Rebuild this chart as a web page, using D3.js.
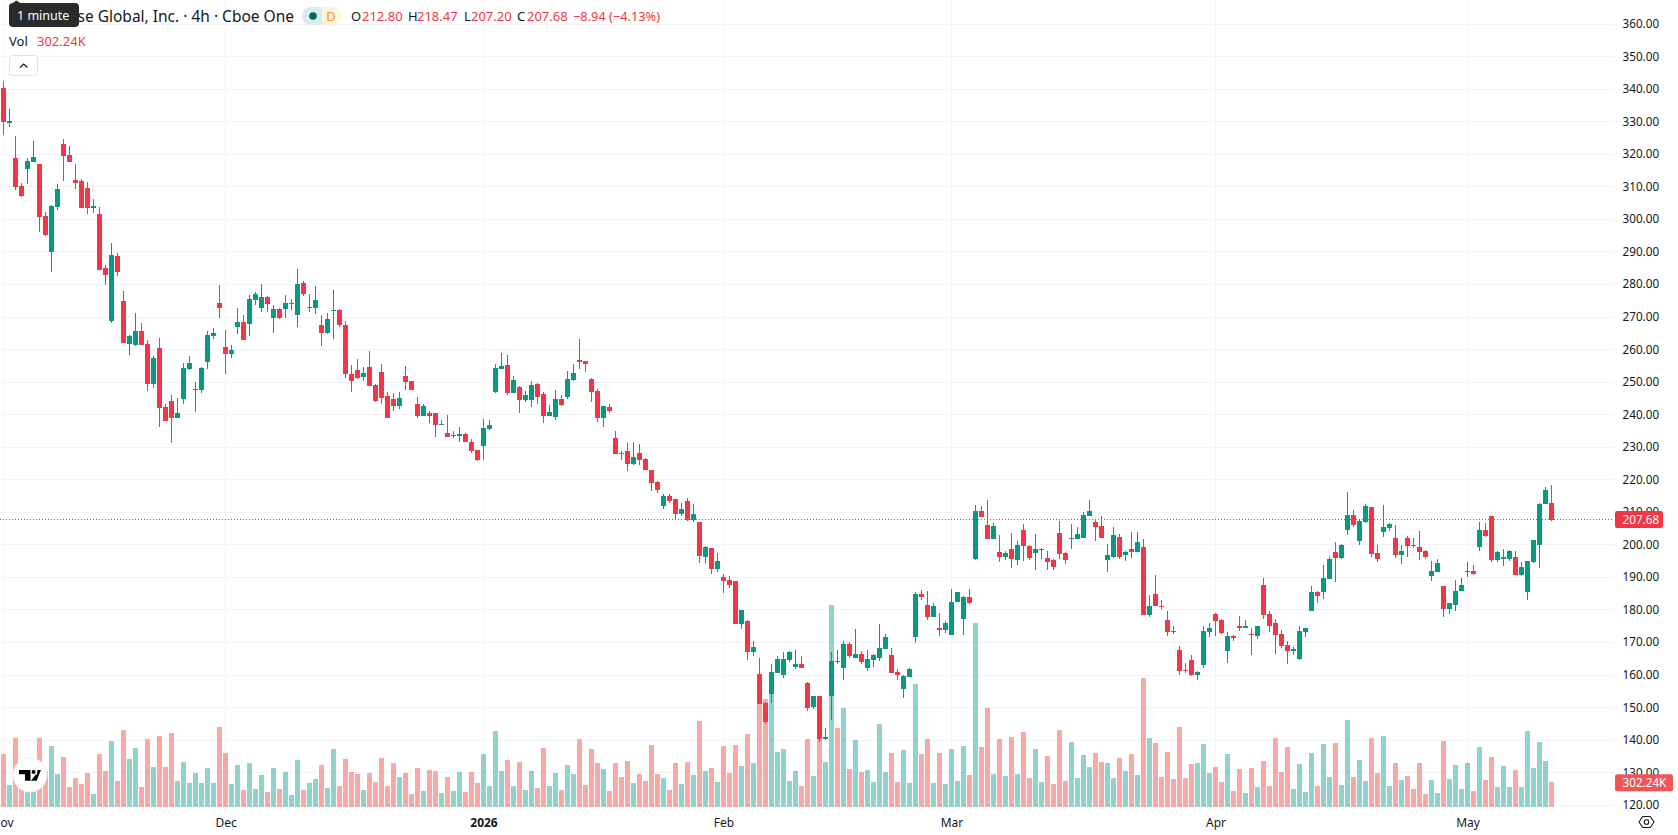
<!DOCTYPE html>
<html>
<head>
<meta charset="utf-8">
<title>Coinbase Global, Inc. 4h</title>
<script src="https://cdn.jsdelivr.net/npm/d3@7/dist/d3.min.js"></script>
<style>
  html, body { margin: 0; padding: 0; background: #fff; overflow: hidden; }
  svg { display: block; }
  text { font-family: "Noto Sans", sans-serif; }
</style>
</head>
<body>
<svg id="chart" width="1678" height="835"></svg>
<script>
// Session candles, oldest first (USD per share)
const opens = [
  340.4,329.7,318.9,310.3,315.5,317.7,317.0,301.1,290.0,303.9,
  323.2,319.8,312.1,311.8,309.7,303.5,301.7,285.1,268.8,288.8,
  275.0,261.8,261.4,265.8,261.8,249.5,260.5,242.4,244.2,239.0,
  244.9,254.1,247.6,247.6,256.2,264.2,274.3,260.8,258.7,267.0,
  268.5,267.9,275.3,272.8,276.2,269.7,272.5,272.5,274.0,270.7,
  280.5,272.8,272.8,267.6,265.1,271.9,272.2,267.6,252.5,253.8,
  251.6,254.7,249.2,253.1,245.8,244.8,242.7,251.9,250.4,243.3,
  239.5,240.4,240.4,236.7,234.3,233.4,233.4,234.0,231.5,229.1,
  230.3,235.5,246.9,253.9,255.2,246.6,248.4,244.4,244.4,249.3,
  246.3,239.5,239.2,244.7,245.4,250.6,256.7,256.4,250.9,247.2,
  238.9,242.3,232.8,228.3,228.8,224.8,228.1,226.3,222.9,219.2,
  211.9,214.9,214.0,209.4,213.4,207.6,206.9,196.2,199.0,192.5,
  190.0,189.1,188.8,175.6,176.5,167.0,160.4,151.5,154.3,160.7,
  160.1,164.7,162.6,163.5,157.7,150.3,153.4,140.2,153.7,164.4,
  162.3,169.4,165.1,166.6,162.3,164.5,165.1,167.9,166.3,160.8,
  155.6,159.3,171.6,184.8,181.4,177.7,174.6,173.7,172.2,182.3,
  177.1,183.9,195.8,210.3,206.0,201.7,197.7,196.4,198.6,195.2,
  204.7,199.5,197.4,198.3,196.1,195.2,203.5,197.4,201.7,201.7,
  202.0,209.0,206.9,205.7,195.2,196.4,202.3,196.8,198.6,197.7,
  199.2,178.3,184.8,181.1,176.8,173.4,167.6,161.4,164.5,159.9,
  163.0,173.1,178.9,176.8,167.3,171.9,175.0,174.6,172.5,171.9,
  187.8,178.6,175.9,172.5,169.1,167.3,164.8,173.1,179.8,185.4,
  185.4,189.4,197.7,196.1,204.7,209.3,201.1,206.9,211.5,197.4,
  203.8,205.1,202.0,196.8,202.0,199.8,199.2,198.0,190.3,191.8,
  187.5,180.2,181.4,185.7,191.8,192.1,199.2,204.7,209.0,195.2,
  195.5,195.8,196.4,190.6,185.4,194.6,200.1,212.4,212.80
];
const highs = [
  342.6,334.0,325.7,311.2,318.9,324.1,317.0,302.3,304.5,310.9,
  324.7,322.6,317.0,312.4,311.5,306.3,303.8,286.0,292.8,289.7,
  278.0,264.5,271.3,268.2,263.0,258.1,263.6,243.3,246.1,245.2,
  255.9,258.1,250.1,254.7,265.7,266.7,279.9,266.1,261.4,272.8,
  270.7,276.8,277.7,280.2,276.5,273.7,272.8,276.8,275.6,284.8,
  281.1,277.1,279.6,270.7,271.3,278.3,272.5,268.8,255.3,257.1,
  254.7,259.6,249.5,255.6,247.0,246.7,247.0,255.0,250.4,245.5,
  243.2,241.0,240.4,238.3,239.8,234.9,236.1,234.3,232.4,229.1,
  238.6,238.3,255.5,258.9,258.3,251.8,248.7,247.2,250.3,249.7,
  246.9,242.9,247.5,246.0,253.3,255.5,263.2,256.4,251.2,247.8,
  242.6,243.2,234.9,228.8,231.2,231.5,230.9,226.6,222.9,219.5,
  215.5,215.5,214.0,212.8,214.3,212.5,206.9,199.6,199.0,197.4,
  191.0,190.3,188.8,179.9,176.8,170.4,165.1,151.8,163.5,165.7,
  167.2,167.5,167.8,165.7,158.0,153.7,153.4,143.8,167.2,167.8,
  170.6,170.0,174.0,167.3,167.6,166.6,175.6,172.5,168.2,161.7,
  159.9,162.3,185.4,186.0,185.7,182.0,179.2,176.5,186.3,185.4,
  184.2,186.3,212.1,211.8,213.7,206.6,202.9,198.0,203.5,201.1,
  206.3,199.8,203.2,198.9,198.0,195.8,207.2,197.7,206.3,205.4,
  210.0,213.7,207.8,209.0,200.4,205.4,203.2,198.0,203.8,203.8,
  201.7,184.5,190.6,182.9,179.8,175.0,168.8,163.6,166.3,161.1,
  175.0,175.9,179.2,177.1,173.1,172.2,178.0,176.8,174.6,175.2,
  189.7,179.8,177.1,173.7,170.3,168.5,175.0,174.6,187.2,185.7,
  193.7,196.4,200.8,200.4,216.1,210.6,207.8,212.4,211.5,199.8,
  212.1,206.6,206.0,199.8,202.6,202.0,204.4,198.3,194.9,195.8,
  187.5,182.0,189.1,189.7,194.6,193.7,206.9,206.6,209.0,198.0,
  198.6,198.3,198.0,194.6,194.9,201.4,213.0,217.9,218.47
];
const lows = [
  326.0,328.4,308.9,306.9,310.9,317.7,296.2,294.9,283.9,302.9,
  311.8,317.7,309.4,303.5,301.7,302.0,284.5,279.9,268.2,282.6,
  262.1,258.4,261.1,261.4,247.3,248.2,236.2,238.1,231.3,239.0,
  243.3,253.8,240.9,246.7,254.1,263.3,269.7,252.5,257.4,264.8,
  263.0,264.2,273.7,271.6,271.6,265.1,269.4,269.7,272.2,267.0,
  276.5,271.6,271.0,261.1,264.8,263.3,267.0,251.3,247.0,251.0,
  250.4,248.8,243.9,243.3,239.0,241.2,241.8,247.6,247.6,239.0,
  239.5,237.4,233.1,236.7,233.1,232.8,231.5,231.5,228.1,225.7,
  226.0,235.2,246.6,253.9,246.0,246.6,240.4,243.8,242.3,243.2,
  237.4,239.5,238.3,242.6,244.7,250.3,254.0,253.0,243.8,237.7,
  236.1,240.4,227.8,226.0,222.6,224.5,224.5,222.9,216.5,215.9,
  210.9,212.8,207.6,208.8,207.2,206.9,194.3,194.3,191.0,191.6,
  185.1,186.7,175.6,174.1,164.5,165.8,151.2,145.1,151.5,160.7,
  159.2,164.1,162.0,162.3,148.8,149.7,139.5,139.9,146.3,163.5,
  158.6,165.1,165.1,163.3,161.1,162.6,164.2,167.9,160.5,158.6,
  152.8,159.3,169.7,182.9,176.8,177.7,171.9,172.8,172.2,182.3,
  172.2,181.7,195.2,208.4,201.7,201.7,194.6,195.2,192.8,193.7,
  194.9,195.2,192.4,195.8,192.4,192.4,195.5,194.0,198.6,201.7,
  202.0,209.0,201.1,202.0,191.8,196.1,195.8,194.9,196.1,197.7,
  178.3,177.7,181.1,180.2,171.9,172.5,159.9,160.5,159.6,158.6,
  162.3,171.6,171.9,172.5,163.6,170.3,173.4,174.3,166.0,171.0,
  177.1,173.1,166.6,168.2,163.3,166.3,164.5,171.6,179.8,182.0,
  183.5,189.4,188.5,195.5,202.9,205.4,200.1,206.6,196.4,194.6,
  202.3,204.4,196.1,194.0,196.4,198.9,195.2,195.8,188.8,191.8,
  177.7,178.6,179.8,185.7,190.0,190.6,198.0,202.3,194.6,194.6,
  193.4,194.9,190.6,190.3,182.9,194.3,192.8,212.4,207.20
];
const closes = [
  329.8,330.3,310.0,307.2,318.0,319.2,300.8,295.2,304.2,309.4,
  319.5,317.7,311.2,303.5,303.5,304.2,284.5,282.9,289.1,283.9,
  262.1,264.2,265.8,261.4,249.5,257.4,242.1,238.1,239.0,240.5,
  254.4,255.9,247.9,254.4,264.5,265.1,272.8,258.7,259.9,268.5,
  263.0,275.6,277.1,276.2,274.0,272.5,269.7,274.3,274.3,280.2,
  277.1,273.1,275.3,265.1,269.4,272.2,267.6,252.5,250.4,251.3,
  252.8,248.8,244.2,245.2,239.0,242.7,245.2,250.1,247.6,239.6,
  242.6,239.5,236.7,237.0,233.1,233.7,234.0,231.5,228.8,226.0,
  235.8,236.7,254.3,254.9,246.6,250.6,244.4,246.0,249.0,245.4,
  239.5,240.7,244.7,242.9,250.9,252.7,256.1,255.5,246.9,238.9,
  242.6,241.0,227.8,227.9,224.8,226.9,226.0,222.9,218.9,216.8,
  214.9,213.4,209.4,210.9,207.6,209.4,196.5,199.3,192.5,195.0,
  188.8,187.6,175.6,179.9,167.0,168.5,151.2,145.7,161.0,165.0,
  165.0,167.2,163.5,162.3,150.0,153.4,140.2,141.1,164.4,164.1,
  169.4,165.7,166.6,163.9,164.8,166.0,168.2,171.6,160.5,159.9,
  159.6,162.0,184.8,183.9,177.7,181.1,173.7,175.9,182.3,185.4,
  183.9,182.0,210.3,208.7,201.7,205.7,196.4,197.4,195.5,199.8,
  199.5,196.1,198.6,198.6,194.6,193.1,197.1,195.2,202.0,203.2,
  209.3,210.3,205.4,202.0,196.8,202.9,196.4,197.7,197.7,200.8,
  178.3,181.1,181.1,180.8,173.1,173.1,161.1,161.1,159.9,160.8,
  173.4,174.6,176.5,172.8,171.9,171.3,174.3,175.0,172.2,175.2,
  178.3,175.0,172.2,168.8,167.3,167.9,173.4,174.6,185.4,184.2,
  189.7,195.8,196.1,199.8,209.3,206.0,207.2,211.8,197.1,195.5,
  205.4,206.3,196.8,198.0,199.5,199.5,197.7,196.4,192.1,194.3,
  180.2,182.0,185.7,187.8,192.1,190.9,204.7,202.6,195.2,197.7,
  196.4,198.0,190.6,193.1,194.9,201.4,212.7,216.7,207.68
];
// Traded volume per candle, in thousands of shares
const volumes = [
  641,266,834,347,246,226,834,435,737,399,
  605,242,351,278,411,157,641,435,798,314,
  931,580,713,242,822,484,858,484,895,314,
  544,290,411,290,472,290,967,653,278,508,
  206,532,218,387,181,472,218,423,145,568,
  206,290,339,508,230,701,254,580,423,399,
  206,411,302,592,254,532,363,411,157,472,
  193,447,435,169,363,193,423,181,423,290,
  641,254,919,435,568,254,544,206,435,230,
  713,254,411,206,508,399,822,266,701,532,
  459,193,532,363,556,290,399,314,750,399,
  351,206,532,278,544,387,1040,435,472,302,
  737,411,750,496,883,532,1257,1306,1378,665,
  701,314,435,254,822,375,822,544,2442,955,
  1197,459,810,423,447,302,1003,423,653,302,
  689,290,1487,641,822,290,653,278,701,314,
  737,387,2225,725,1197,399,822,375,846,399,
  907,351,701,302,617,278,931,314,786,351,
  629,484,653,544,532,351,592,435,641,387,
  1560,834,774,363,665,339,967,351,520,532,
  762,411,484,302,641,193,459,169,472,242,
  556,254,834,423,725,218,520,181,653,254,
  762,363,774,266,1052,363,568,314,834,411,
  858,254,532,326,375,218,532,157,326,169,
  798,339,508,218,532,193,725,326,605,242,
  496,242,447,242,919,472,786,556,302.24
];
// Axis ticks
const priceTicks = [120,130,140,150,160,170,180,190,200,210,220,230,240,250,260,270,280,290,300,310,320,330,340,350,360];
const timeTickIndexes = [0,37,80,120,158,202,244];
const timeTickLabels = ["Nov","Dec","2026","Feb","Mar","Apr","May"];
// Legend readout
const symbolName = "Coinbase Global, Inc. \u00b7 4h \u00b7 Cboe One";
const lastClose = 207.68;
const lastVolume = 302.24;
const lastChange = "\u22128.94 (\u22124.13%)";

const UP = "#089981", DOWN = "#f23645";
const VOL_UP = "#26a69a", VOL_DOWN = "#ef5350";
const GRID = "#f2f3f5", INK = "#131722";
const PANE_RIGHT = 1614;
const AXIS_TEXT_SQUEEZE = 0.9;

const svg = d3.select("#chart");
const x = d3.scaleLinear().domain([0, 258]).range([3.5, 1551.5]);
const y = d3.scaleLinear().domain([120, 340]).range([805.2, 89.2]);
const vol = d3.scaleLinear().domain([0, 2442]).range([807, 605]);
const crisp = v => Math.floor(v) + 0.5;

// Axis labels run slightly narrower than the font's natural width
function squeeze(selection, factor) {
  selection.each(function () {
    const len = this.getComputedTextLength();
    d3.select(this).attr("textLength", len * factor).attr("lengthAdjust", "spacingAndGlyphs");
  });
}

const candles = d3.range(opens.length).map(i => ({
  i, o: opens[i], h: highs[i], l: lows[i], c: closes[i], v: volumes[i], up: closes[i] >= opens[i]
}));

// Grid
const grid = svg.append("g").attr("stroke", GRID).attr("stroke-width", 1);
grid.selectAll("line.h").data(priceTicks).join("line").attr("class", "h")
  .attr("x1", 0).attr("x2", PANE_RIGHT)
  .attr("y1", d => crisp(y(d))).attr("y2", d => crisp(y(d)));
grid.selectAll("line.v").data(timeTickIndexes).join("line").attr("class", "v")
  .attr("x1", d => x(d)).attr("x2", d => x(d))
  .attr("y1", 0).attr("y2", 810);

// Volume histogram sits behind the candles
svg.append("g").selectAll("rect").data(candles).join("rect")
  .attr("x", d => x(d.i) - 2.5)
  .attr("width", 5)
  .attr("y", d => Math.round(vol(d.v)))
  .attr("height", d => Math.round(vol(0)) - Math.round(vol(d.v)))
  .attr("fill", d => d.up ? VOL_UP : VOL_DOWN)
  .attr("fill-opacity", 0.5);

// Last price guide
svg.append("line")
  .attr("x1", 0).attr("x2", PANE_RIGHT)
  .attr("y1", crisp(y(lastClose))).attr("y2", crisp(y(lastClose)))
  .attr("stroke", DOWN).attr("stroke-width", 1).attr("stroke-dasharray", "1 2");

// Candles
const candleG = svg.append("g");
candleG.selectAll("line").data(candles).join("line")
  .attr("x1", d => x(d.i)).attr("x2", d => x(d.i))
  .attr("y1", d => Math.round(y(d.h))).attr("y2", d => Math.round(y(d.l)))
  .attr("stroke", d => d.up ? UP : DOWN).attr("stroke-width", 1);
candleG.selectAll("rect").data(candles).join("rect")
  .attr("x", d => x(d.i) - 2.5)
  .attr("width", 5)
  .attr("y", d => Math.round(y(Math.max(d.o, d.c))))
  .attr("height", d => Math.max(1, Math.round(y(Math.min(d.o, d.c))) - Math.round(y(Math.max(d.o, d.c)))))
  .attr("fill", d => d.up ? UP : DOWN);

// Price axis
const priceAxis = svg.append("g").attr("transform", "translate(1622.5,-0.7)")
  .call(d3.axisRight(y).tickValues(priceTicks).tickFormat(d3.format(".2f")).tickSize(0).tickPadding(0));
priceAxis.select(".domain").remove();
priceAxis.selectAll("text").attr("fill", INK).attr("font-size", 13)
  .style("font-family", '"Noto Sans", sans-serif')
  .call(squeeze, AXIS_TEXT_SQUEEZE);

// Time axis
const timeAxis = svg.append("g").attr("transform", "translate(0,818)")
  .call(d3.axisBottom(x).tickValues(timeTickIndexes)
    .tickFormat((d, i) => timeTickLabels[i]).tickSize(0).tickPadding(0));
timeAxis.select(".domain").remove();
timeAxis.selectAll("text").attr("fill", INK).attr("font-size", 13)
  .attr("font-weight", (d, i) => timeTickLabels[i] === "2026" ? 700 : 400)
  .attr("dx", (d, i) => i === 0 ? -1.5 : 0)
  .style("font-family", '"Noto Sans", sans-serif')
  .call(squeeze, 0.92);

// Value tags on the price axis
function tag(cy, w, fill, label) {
  svg.append("rect").attr("x", 1615).attr("y", cy - 8.5).attr("width", w).attr("height", 17)
    .attr("rx", 2).attr("fill", fill);
  svg.append("text").attr("x", 1622.5).attr("y", cy).attr("dy", "0.35em")
    .attr("fill", "#fff").attr("font-size", 13).text(label)
    .call(squeeze, AXIS_TEXT_SQUEEZE);
}
tag(crisp(y(lastClose)), 48, DOWN, d3.format(".2f")(lastClose));
tag(vol(lastVolume) + 0.8, 58, "#f05656", d3.format(".2f")(lastVolume) + "K");

// Legend
const legend = svg.append("g");
legend.append("text").attr("x", 294).attr("y", 22).attr("text-anchor", "end")
  .attr("font-size", 15.5).attr("fill", INK).text(symbolName);

legend.append("path").attr("d", "M302 16a9 9 0 0 1 9-9h11v18h-11a9 9 0 0 1-9-9Z").attr("fill", "#d6eee9");
legend.append("path").attr("d", "M322 7h10.5a9 9 0 0 1 0 18H322Z").attr("fill", "#fff3e0");
legend.append("circle").attr("cx", 313).attr("cy", 16).attr("r", 3.8).attr("fill", "#056656");
legend.append("text").attr("x", 331).attr("y", 21).attr("text-anchor", "middle")
  .attr("font-size", 13).attr("fill", "#ff9800").text("D");

const ohlcLetters = ["O", "H", "L", "C"];
const ohlcValues = [opens[258], highs[258], lows[258], closes[258]];
const letterX = [351, 408, 464, 517];
const valueX = [362, 417, 471, 527];
ohlcLetters.forEach((k, i) => {
  legend.append("text").attr("x", letterX[i]).attr("y", 21).attr("font-size", 13).attr("fill", INK).text(k);
  legend.append("text").attr("x", valueX[i]).attr("y", 21).attr("font-size", 13).attr("fill", DOWN)
    .text(d3.format(".2f")(ohlcValues[i]));
});
legend.append("text").attr("x", 573).attr("y", 21).attr("font-size", 12.8).attr("fill", DOWN).text(lastChange);

legend.append("text").attr("x", 9).attr("y", 46).attr("font-size", 13).attr("fill", INK).text("Vol");
legend.append("text").attr("x", 37).attr("y", 46).attr("font-size", 13).attr("fill", DOWN)
  .text(d3.format(".2f")(lastVolume) + "K");

// Collapse button
legend.append("rect").attr("x", 9.5).attr("y", 55.5).attr("width", 28).attr("height", 20).attr("rx", 3)
  .attr("fill", "#fff").attr("stroke", "#e0e3eb");
legend.append("path").attr("d", "M20 67.5l3.7-3.4 3.7 3.4").attr("fill", "none").attr("stroke", INK).attr("stroke-width", 1.2);

// Interval tooltip
const tip = svg.append("g");
tip.append("path").attr("d", "M12 3.5L16.5 0.5 21 3.5Z").attr("fill", "#2a2a2a");
tip.append("rect").attr("x", 9).attr("y", 3).attr("width", 70).attr("height", 24).attr("rx", 4).attr("fill", "#2a2a2a");
tip.append("text").attr("x", 17).attr("y", 20).attr("font-size", 12.5).attr("fill", "#fff").text("1 minute");

// Logo badge
const logo = svg.append("g").attr("transform", "translate(30,775)");
logo.append("circle").attr("r", 17).attr("fill", "#fff").attr("stroke", "#eeeeee");
const mark = logo.append("g").attr("transform", "translate(-11,-5)").attr("fill", "#000");
mark.append("path").attr("d", "M0 0H11.5V10.7H6V4.2H0Z");
mark.append("circle").attr("cx", 14.6).attr("cy", 2).attr("r", 2);
mark.append("path").attr("d", "M22 0L17.6 10.7H11.9L16.8 4.5H18L18.5 0Z");

// Settings gear
const gear = svg.append("g").attr("transform", "translate(1646.5,822)")
  .attr("fill", "none").attr("stroke", INK).attr("stroke-width", 1.1);
gear.append("path").attr("d", "M-7.5 0L-3.8 -5.5H3.8L7.5 0L3.8 5.5H-3.8Z").attr("stroke-linejoin", "round");
gear.append("circle").attr("r", 2.3);
</script>
</body>
</html>
